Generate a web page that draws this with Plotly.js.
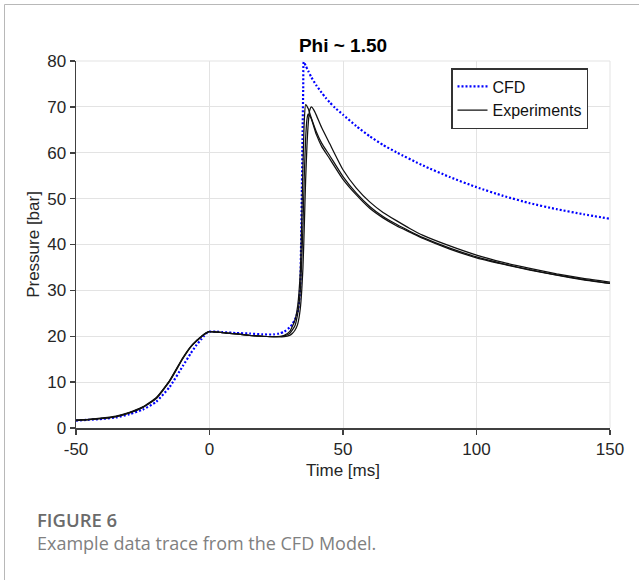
<!DOCTYPE html>
<html>
<head>
<meta charset="utf-8">
<script src="https://cdn.plot.ly/plotly-3.0.1.min.js"></script>
<style>
  html, body { margin: 0; padding: 0; background: #ffffff; }
  #chart { width: 639px; height: 580px; }
</style>
</head>
<body>
<div id="chart"></div>
<script>
// CFD model pressure trace
const cfdTime = [-50, -45, -40, -35, -30, -25, -20, -15, -10, -7, -5, -3, -2, -1, 0, 3, 5, 10, 15, 20, 24, 26, 28, 30, 31, 32, 33, 33.5, 34, 34.3, 34.6, 34.9, 35.1, 35.3, 36, 37, 38, 40, 42, 43.5, 45, 47, 50, 55, 60, 65, 70, 80, 90, 100, 110, 120, 130, 140, 150];
const cfdPressure = [1.6, 1.8, 2.0, 2.3, 3.0, 4.0, 5.7, 8.9, 13.5, 16.3, 18.0, 19.4, 20.1, 20.7, 21.0, 21.0, 20.9, 20.7, 20.6, 20.4, 20.4, 20.6, 21.0, 21.9, 22.6, 23.6, 25.2, 27.0, 31.0, 40.0, 52.0, 66.0, 74.0, 79.8, 79.0, 77.8, 76.6, 74.7, 73.1, 72.0, 71.0, 69.8, 68.3, 65.8, 63.6, 61.7, 60.1, 57.2, 54.7, 52.5, 50.6, 49.0, 47.7, 46.6, 45.6];

// Experimental pressure traces (three runs)
const exp1Time = [-50, -45, -40, -35, -30, -25, -20, -15, -10, -7, -5, -3, -2, -1, 0, 3, 5, 10, 15, 20, 25, 27, 28, 30, 32, 33, 34, 34.5, 35, 35.5, 36, 37, 38, 40, 42, 45, 50, 55, 60, 65, 70, 75, 80, 90, 100, 110, 120, 130, 140, 150];
const exp1Pressure = [1.7, 1.9, 2.2, 2.6, 3.4, 4.6, 6.6, 10.3, 15.3, 17.8, 19.0, 20.0, 20.5, 20.8, 21.0, 20.9, 20.8, 20.5, 20.2, 20.0, 19.9, 20.0, 20.2, 21.0, 23.5, 26.5, 34.0, 44.0, 57.0, 67.0, 70.5, 69.6, 67.8, 64.6, 62.1, 59.4, 54.8, 51.2, 48.3, 46.1, 44.4, 42.9, 41.5, 39.2, 37.3, 35.8, 34.5, 33.4, 32.4, 31.5];

const exp2Time = [-50, -45, -40, -35, -30, -25, -20, -15, -10, -7, -5, -3, -2, -1, 0, 3, 5, 10, 15, 20, 25, 28, 30, 31, 32, 33, 34, 35, 35.5, 36, 36.5, 37, 37.5, 38.2, 39, 40, 42, 45, 50, 55, 60, 65, 70, 75, 80, 90, 100, 110, 120, 130, 140, 150];
const exp2Pressure = [1.7, 1.9, 2.1, 2.5, 3.3, 4.5, 6.4, 10.1, 15.1, 17.7, 18.9, 19.9, 20.4, 20.8, 21.0, 20.9, 20.8, 20.5, 20.2, 20.0, 19.9, 19.9, 20.2, 20.6, 21.3, 22.6, 26.0, 35.0, 44.0, 54.0, 61.5, 66.5, 69.2, 70.0, 69.4, 68.2, 65.5, 62.0, 56.3, 52.3, 49.3, 47.0, 45.2, 43.5, 42.0, 39.7, 37.7, 36.1, 34.8, 33.6, 32.6, 31.8];

const exp3Time = [-50, -45, -40, -35, -30, -25, -20, -15, -10, -7, -5, -3, -2, -1, 0, 3, 5, 10, 15, 20, 25, 28, 30, 32, 33, 34, 35, 35.5, 36, 36.5, 36.9, 38, 40, 42, 45, 50, 55, 60, 65, 70, 75, 80, 90, 100, 110, 120, 130, 140, 150];
const exp3Pressure = [1.6, 1.8, 2.1, 2.5, 3.3, 4.5, 6.5, 10.2, 15.2, 17.7, 18.9, 19.9, 20.4, 20.8, 21.0, 20.9, 20.8, 20.5, 20.2, 20.0, 19.9, 20.1, 20.6, 22.3, 24.8, 30.0, 44.0, 55.0, 63.0, 67.3, 68.4, 67.6, 64.0, 61.4, 58.7, 54.2, 50.8, 47.9, 45.8, 44.1, 42.7, 41.3, 39.0, 37.1, 35.7, 34.4, 33.3, 32.3, 31.5];

const xTicks = [-50, 0, 50, 100, 150];
const yTicks = [0, 10, 20, 30, 40, 50, 60, 70, 80];

const expLine = { color: '#111111', width: 1.25, shape: 'spline', smoothing: 0.5 };

const traces = [
  { x: cfdTime, y: cfdPressure, type: 'scatter', mode: 'lines', name: 'CFD',
    line: { color: '#0000ff', width: 2.2, dash: '2px,2px', shape: 'spline', smoothing: 0.5 } },
  { x: exp1Time, y: exp1Pressure, type: 'scatter', mode: 'lines', name: 'Experiments',
    line: expLine, legendgroup: 'exp' },
  { x: exp2Time, y: exp2Pressure, type: 'scatter', mode: 'lines', name: 'Experiments',
    line: expLine, legendgroup: 'exp', showlegend: false },
  { x: exp3Time, y: exp3Pressure, type: 'scatter', mode: 'lines', name: 'Experiments',
    line: expLine, legendgroup: 'exp', showlegend: false }
];

// pixel -> paper helpers for the decorations outside the axes
const L = 76, R = 610, T = 61, B = 428;
const px = v => (v - L) / (R - L);
const py = v => (B - v) / (B - T);

const sans = 'Liberation Sans, Arial, sans-serif';
const axisFont = { family: sans, size: 17, color: '#262626' };

const layout = {
  width: 639, height: 580,
  margin: { l: L, r: 639 - R, t: T, b: 580 - B, pad: 0 },
  paper_bgcolor: '#ffffff', plot_bgcolor: '#ffffff',
  font: { family: sans, color: '#262626' },
  title: {
    text: '<b>Phi ~ 1.50</b>',
    font: { family: sans, size: 19, color: '#000000' },
    x: 0.5, xref: 'paper', xanchor: 'center',
    y: 1 - 45 / 580, yref: 'container', yanchor: 'middle'
  },
  xaxis: {
    range: [-50, 150], tickvals: xTicks, ticktext: xTicks.map(String),
    showgrid: true, gridcolor: '#e3e3e3', gridwidth: 1,
    showline: true, linecolor: '#404040', linewidth: 1.5, mirror: false,
    ticks: 'outside', ticklen: 5, tickwidth: 1.5, tickcolor: '#404040',
    zeroline: false, tickfont: axisFont,
    title: { text: 'Time [ms]', font: { family: sans, size: 17, color: '#262626' }, standoff: 6 }
  },
  yaxis: {
    range: [0, 80], tickvals: yTicks, ticktext: yTicks.map(String),
    showgrid: true, gridcolor: '#e3e3e3', gridwidth: 1,
    showline: true, linecolor: '#404040', linewidth: 1.5, mirror: false,
    ticks: 'outside', ticklen: 5, tickwidth: 1.5, tickcolor: '#404040',
    zeroline: false, tickfont: axisFont,
    title: { text: 'Pressure [bar]', font: { family: sans, size: 17, color: '#262626' }, standoff: 3 }
  },
  showlegend: true,
  legend: {
    x: px(588), xanchor: 'right', y: py(68), yanchor: 'top',
    bgcolor: '#ffffff', bordercolor: '#333333', borderwidth: 1.5,
    font: { family: sans, size: 16, color: '#111111' },
    itemwidth: 30, tracegroupgap: 0
  },
  shapes: [
    // top and right grid edges
    { type: 'line', xref: 'paper', yref: 'paper', x0: 0, x1: 1, y0: 1, y1: 1,
      line: { color: '#e3e3e3', width: 1 }, layer: 'below' },
    { type: 'line', xref: 'paper', yref: 'paper', x0: 1, x1: 1, y0: 0, y1: 1,
      line: { color: '#e3e3e3', width: 1 }, layer: 'below' },
    // figure frame
    { type: 'line', xref: 'paper', yref: 'paper', x0: px(4.5), x1: px(639), y0: py(4.5), y1: py(4.5),
      line: { color: '#b8b8b8', width: 1 } },
    { type: 'line', xref: 'paper', yref: 'paper', x0: px(4.5), x1: px(4.5), y0: py(4.5), y1: py(580),
      line: { color: '#b8b8b8', width: 1 } }
  ],
  annotations: [
    // figure caption: label line and description as one two-line block
    { text: '<span style="font-weight:600;color:#6b6b6b;font-size:18.5px">FIGURE 6</span><br>Example data trace from the CFD Model.',
      xref: 'paper', yref: 'paper', x: px(35), y: py(531),
      xanchor: 'left', yanchor: 'middle', align: 'left', showarrow: false,
      font: { family: 'Open Sans, sans-serif', size: 18, color: '#808080' } }
  ]
};

Plotly.newPlot('chart', traces, layout, { staticPlot: true, displayModeBar: false });
</script>
</body>
</html>
